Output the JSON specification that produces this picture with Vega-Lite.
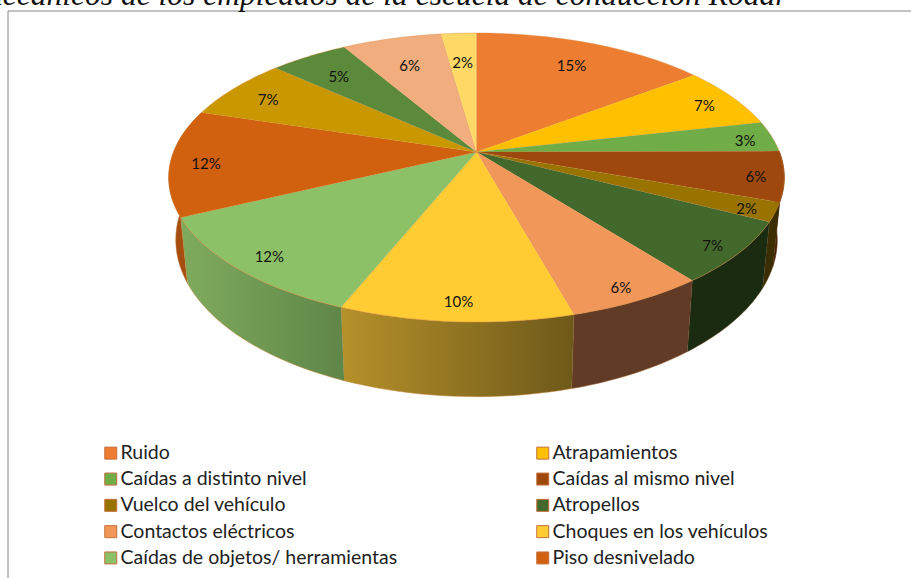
{
"$schema":"https://vega.github.io/schema/vega-lite/v6.json",
"width":903,"height":567,"autosize":"none",
"padding":{"left":8,"top":11,"right":0,"bottom":0},
"background":"white",
"view":{"stroke":null},
"title":{"text":"mecánicos de los empleados de la escuela de conducción Rodar","font":"Liberation Serif","fontStyle":"italic","fontWeight":"normal","fontSize":31.5,"color":"#111","anchor":"start","align":"right","dx":780,"baseline":"alphabetic","offset":-25.5},
"data":{"values":[
{"order":1,"name":"Ruido","value":14.6,"label":"15%"},
{"order":2,"name":"Atrapamientos","value":6.9,"label":"7%"},
{"order":3,"name":"Caídas a distinto nivel","value":3.4,"label":"3%"},
{"order":4,"name":"Caídas al mismo nivel","value":5.6,"label":"6%"},
{"order":5,"name":"Vuelco del vehículo","value":2.1,"label":"2%"},
{"order":6,"name":"Atropellos","value":6.9,"label":"7%"},
{"order":7,"name":"Contactos eléctricos","value":6.2,"label":"6%"},
{"order":8,"name":"Choques en los vehículos","value":10.4,"label":"10%"},
{"order":9,"name":"Caídas de objetos/ herramientas","value":11.8,"label":"12%"},
{"order":10,"name":"Piso desnivelado","value":11.9,"label":"12%"},
{"order":11,"name":"Sin leyenda 11","value":6.9,"label":"7%"},
{"order":12,"name":"Sin leyenda 12","value":4.9,"label":"5%"},
{"order":13,"name":"Sin leyenda 13","value":6.2,"label":"6%"},
{"order":14,"name":"Sin leyenda 14","value":2.2,"label":"2%"}
]},
"transform":[
{"window":[{"op":"sum","field":"value","as":"end"}],"sort":[{"field":"order"}]},
{"calculate":"datum.end-datum.value","as":"start"},
{"calculate":"(datum.start+datum.end)*PI/100","as":"mid"},
{"calculate":"0.91-0.14*pow(max(cos(datum.mid),0),2)-(sin(datum.mid)<0?0.025:0)","as":"lr"},
{"calculate":"datum.lr*cos(datum.mid)/(1+0.1765*datum.lr*cos(datum.mid))","as":"LY"},
{"calculate":"datum.lr*sin(datum.mid)/(1+0.1765*datum.lr*cos(datum.mid))","as":"LX"},
{"calculate":"sequence(0,2.06,0.05)","as":"t"},
{"flatten":["t"]},
{"calculate":"(datum.start+(datum.end-datum.start)*(datum.t<=1.001?datum.t:2.05-datum.t))*2*PI/100","as":"a"},
{"calculate":"sin(datum.a)/(1+0.1765*cos(datum.a))","as":"px"},
{"calculate":"cos(datum.a)/(1+0.1765*cos(datum.a))","as":"py"},
{"calculate":"datum.t<=1.001?datum.px:0.977*datum.px","as":"WX"},
{"calculate":"datum.t<=1.001?datum.py:1.085*datum.py-0.43","as":"WY"}
],
"encoding":{
"x":{"field":"WX","type":"quantitative","axis":null,"scale":{"domain":[-1.5462,1.434],"nice":false,"zero":false}},
"y":{"field":"WY","type":"quantitative","axis":null,"scale":{"domain":[-3.0429,1.00714],"nice":false,"zero":false}},
"order":{"field":"t","type":"quantitative"}
},
"layer":[
{"transform":[{"filter":"datum.name=='Piso desnivelado'"}],"mark":{"type":"line","fill":"#a64d10","stroke":"#c5702e","strokeWidth":0.5}},
{"transform":[{"filter":"datum.name=='Caídas al mismo nivel'"}],"mark":{"type":"line","fill":"#4a2308","stroke":"#4a2308","strokeWidth":0.5}},
{"transform":[{"filter":"datum.name=='Vuelco del vehículo'"}],"mark":{"type":"line","fill":"#3a2d02","stroke":"#6a4a10","strokeWidth":0.5}},
{"transform":[{"filter":"datum.name=='Atropellos'"}],"mark":{"type":"line","fill":"#1b2b11","stroke":"#6a4a20","strokeWidth":0.5}},
{"transform":[{"filter":"datum.name=='Contactos eléctricos'"}],"mark":{"type":"line","fill":"#613b25","stroke":"#a5602e","strokeWidth":0.5}},
{"transform":[{"filter":"datum.name=='Choques en los vehículos'"}],"mark":{"type":"line","stroke":"#c5802e","strokeWidth":0.5,"fill":{"gradient":"linear","x1":0,"y1":0,"x2":1,"y2":0,"stops":[{"offset":0,"color":"#b6912a"},{"offset":1,"color":"#6d5919"}]}}},
{"transform":[{"filter":"datum.name=='Caídas de objetos/ herramientas'"}],"mark":{"type":"line","stroke":"#c5802e","strokeWidth":0.5,"fill":{"gradient":"linear","x1":0,"y1":0,"x2":1,"y2":0,"stops":[{"offset":0,"color":"#7fab5e"},{"offset":1,"color":"#5f8647"}]}}},
{"transform":[
{"filter":"datum.t<=1.0501"},
{"calculate":"datum.t>1.001?0:datum.px","as":"TX"},
{"calculate":"datum.t>1.001?0:datum.py","as":"TY"}],
"mark":{"type":"line","stroke":"#d98a3c","strokeWidth":0.5,"strokeOpacity":0.8},
"encoding":{
"x":{"field":"TX","type":"quantitative"},
"y":{"field":"TY","type":"quantitative"},
"fill":{"field":"name","type":"nominal","sort":{"field":"order"},
"scale":{"domain":["Ruido","Atrapamientos","Caídas a distinto nivel","Caídas al mismo nivel","Vuelco del vehículo","Atropellos","Contactos eléctricos","Choques en los vehículos","Caídas de objetos/ herramientas","Piso desnivelado","Sin leyenda 11","Sin leyenda 12","Sin leyenda 13","Sin leyenda 14"],
"range":["#ed7d31","#ffc000","#70ad47","#9e480e","#997300","#43682b","#f1975a","#ffcd33","#8cc168","#d1600f","#c99700","#5b8a3a","#f1ad7e","#ffd966"]},
"legend":{"values":["Ruido","Caídas a distinto nivel","Vuelco del vehículo","Contactos eléctricos","Caídas de objetos/ herramientas","Atrapamientos","Caídas al mismo nivel","Atropellos","Choques en los vehículos","Piso desnivelado"],
"title":null,"orient":"none","legendX":93,"legendY":432,"columns":2,"columnPadding":135,"rowPadding":5.3,"symbolType":"square","symbolSize":144,"symbolStrokeWidth":1,"symbolStrokeColor":"#c5703a","symbolOpacity":1,"labelFont":"Lato","labelFontSize":19.5,"labelColor":"#222","labelOffset":0,"labelLimit":400}}
}},
{"transform":[{"filter":"datum.t==0"}],
"mark":{"type":"text","font":"Lato","fontSize":15,"color":"#111","baseline":"middle","align":"center","dy":3},
"encoding":{"x":{"field":"LX","type":"quantitative"},"y":{"field":"LY","type":"quantitative"},"text":{"field":"label","type":"nominal"}}},
{"transform":[{"filter":"datum.t==0 && datum.order==1"}],
"mark":{"type":"rule","stroke":"#868686","strokeWidth":1},
"encoding":{"x":{"datum":-1.5462},"y":{"datum":1.00714},"y2":{"datum":-3.0429}}},
{"transform":[{"filter":"datum.t==0 && datum.order==1"}],
"mark":{"type":"rule","stroke":"#868686","strokeWidth":1},
"encoding":{"y":{"datum":1.00714},"x":{"datum":-1.5462},"x2":{"datum":1.434}}}
]
}
